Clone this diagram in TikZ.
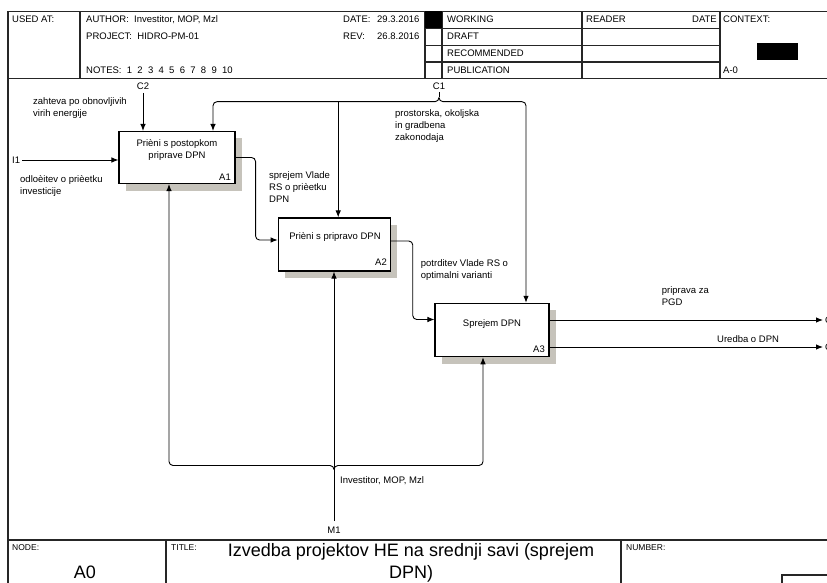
\documentclass[tikz,border=0pt]{standalone}
\usepackage{fontspec}
\setmainfont{Liberation Sans}
\usetikzlibrary{arrows.meta,shadows}
\definecolor{shadowgray}{RGB}{198,195,187}
\newcommand\twosp{\hspace{5.3pt}}
\begin{document}
\begin{tikzpicture}[x=1pt,y=-1pt,
  frame/.style={line width=1.1pt,draw=black!85},
  conn/.style={line width=0.9pt},
  arr/.style={conn,-{Latex[length=7pt,width=5.5pt]}},
  elbow/.style={rounded corners=4pt},
  activity/.style={draw,line width=1.1pt,fill=white,inner sep=0pt,
    drop shadow={shadow xshift=7pt,shadow yshift=-7pt,fill=shadowgray,opacity=1}},
  txt/.style={font=\fontsize{9.5}{12}\selectfont,inner sep=0pt},
  lbl/.style={txt,align=left,anchor=north west},
  small/.style={font=\fontsize{8.5}{10}\selectfont,inner sep=0pt,anchor=base west},
]
\clip (0,0) rectangle (827,583);
\fill[white] (0,0) rectangle (827,583);

% ---------- form frame ----------
\draw[frame] (8,600) -- (8,11.5) -- (870,11.5);
\draw[frame] (8,78.5) -- (870,78.5);
\draw[frame] (80,11.5) -- (80,78.5);
\draw[frame] (425,11.5) -- (425,78.5);
\draw[frame] (442,11.5) -- (442,78.5);
\draw[frame] (582,11.5) -- (582,78.5);
\draw[frame] (720,11.5) -- (720,78.5);
\foreach \yy in {28.5,45.5,62} \draw[frame] (425,\yy) -- (720,\yy);
\fill[black] (425,11.5) rectangle (442,28.5);
\fill[black] (757,43) rectangle (798,60);
\draw[frame] (8,540) -- (870,540);
\draw[frame] (166,540) -- (166,600);
\draw[frame] (621,540) -- (621,600);
\draw[frame] (782,575) rectangle (900,620);

% ---------- header texts ----------
\node[txt,anchor=base west] (usedat) at (12,22.5) {USED AT:};
\node[txt,anchor=base west] (author) at (86,22.5) {AUTHOR:\twosp Investitor, MOP, Mzl};
\node[txt,anchor=base west] (project) at (86,39.5) {PROJECT:\twosp HIDRO-PM-01};
\node[txt,anchor=base west] (notes) at (86,73.5) {NOTES:\twosp 1\twosp 2\twosp 3\twosp 4\twosp 5\twosp 6\twosp 7\twosp 8\twosp 9\twosp 10};
\node[txt,anchor=base west] (date) at (343,22.5) {DATE:};
\node[txt,anchor=base west] (dateval) at (377,22.5) {29.3.2016};
\node[txt,anchor=base west] (rev) at (343,39.5) {REV:};
\node[txt,anchor=base west] (revval) at (377,39.5) {26.8.2016};
\node[txt,anchor=base west] (working) at (447,22.5) {WORKING};
\node[txt,anchor=base west] (draft) at (447,39.5) {DRAFT};
\node[txt,anchor=base west] (recommended) at (447,56.5) {RECOMMENDED};
\node[txt,anchor=base west] (publication) at (447,73.5) {PUBLICATION};
\node[txt,anchor=base west] (reader) at (586,22.5) {READER};
\node[txt,anchor=base east] (readerdate) at (717,22.5) {DATE};
\node[txt,anchor=base west] (context) at (723,22.5) {CONTEXT:};
\node[txt,anchor=base west] (ctxnode) at (723,73.5) {A-0};

% ---------- footer texts ----------
\node[small] (nodelbl) at (12,550) {NODE:};
\node[small] (titlelbl) at (171,550) {TITLE:};
\node[small] (numberlbl) at (626,550) {NUMBER:};
\node[font=\fontsize{18}{22}\selectfont,inner sep=0pt] (nodeval) at (85,572) {A0};
\node[font=\fontsize{18}{22}\selectfont,inner sep=0pt,align=center] (title) at (411,563)
  {Izvedba projektov HE na srednji savi (sprejem\\DPN)};

% ---------- activities ----------
\node[activity,minimum width=116pt,minimum height=52pt] (A1) at (177,157.5) {};
\node[activity,minimum width=112pt,minimum height=53pt] (A2) at (334.2,244.5) {};
\node[activity,minimum width=114pt,minimum height=53.4pt] (A3) at (492,330) {};

\node[txt,align=center,anchor=north] (A1t) at (177,139) {Prièni s postopkom\\priprave DPN};
\node[txt,anchor=base east] (A1n) at (231,180) {A1};
\node[txt,anchor=base] (A2t) at (335,239) {Prièni s pripravo DPN};
\node[txt,anchor=base east] (A2n) at (387,265) {A2};
\node[txt,anchor=base] (A3t) at (492,326) {Sprejem DPN};
\node[txt,anchor=base east] (A3n) at (545,352.5) {A3};

% ---------- boundary labels ----------
\node[txt] (C2) at (143,86) {C2};
\node[txt] (C1) at (439,86) {C1};
\node[txt,anchor=west] (I1) at (12,160) {I1};
\node[txt] (M1) at (334,530) {M1};
\node[txt,anchor=west] (O1) at (825,320) {O1};
\node[txt,anchor=west] (O2) at (825,347) {O2};

\coordinate (c2) at (143,93);
\coordinate (c1) at (439,92);
\coordinate (c1f) at (439,97.5);
\coordinate (c1L) at (435,101.7);
\coordinate (c1R) at (443,101.7);
\coordinate (c1A2) at (338.2,101.7);
\coordinate (i1) at (22,160);
\coordinate (m1) at (334,521);
\coordinate (m1f) at (334,469.5);
\coordinate (m1L) at (330,465.5);
\coordinate (m1R) at (338,465.5);
\coordinate (o1) at (823,320);
\coordinate (o2) at (823,347);

% ---------- controls ----------
\draw[arr] (c2) -- (c2 |- A1.north);
\draw[conn] (c1) -- (c1f);
\draw[conn] (c1f) to[out=-90,in=0] (c1L);
\draw[conn] (c1f) to[out=-90,in=180] (c1R);
\draw[arr,elbow] (c1L) -| ([xshift=36pt]A1.north);
\draw[arr,elbow] (c1R) -| ([xshift=34pt]A3.north);
\draw[arr] (c1A2) -- (c1A2 |- A2.north);

% ---------- inputs and outputs ----------
\draw[arr] (i1) -- (i1 -| A1.west);
\draw[arr,elbow] (A1.east) -- ++(20,0) |- ([yshift=4.5pt]A2.west);
\draw[arr,elbow] ([yshift=3.5pt]A2.east) -- ++(22,0) |- ([yshift=10.5pt]A3.west);
\draw[arr] (o1 -| A3.east) -- (o1);
\draw[arr] (o2 -| A3.east) -- (o2);

% ---------- mechanisms ----------
\draw[arr] (m1) -- (m1 |- A2.south);
\draw[conn] (m1f) to[out=90,in=0] (m1L);
\draw[conn] (m1f) to[out=90,in=180] (m1R);
\draw[arr,elbow] (m1L) -| ([xshift=-8pt]A1.south);
\draw[arr,elbow] (m1R) -| ([xshift=-9pt]A3.south);

% ---------- arrow labels ----------
\node[lbl] (l-zahteva) at (33,97) {zahteva po obnovljivih\\virih energije};
\node[lbl] (l-odlocitev) at (20,175) {odloèitev o prièetku\\investicije};
\node[lbl] (l-sprejem) at (269,171.5) {sprejem Vlade\\RS o prièetku\\DPN};
\node[lbl] (l-prostorska) at (395,109) {prostorska, okoljska\\in gradbena\\zakonodaja};
\node[lbl] (l-potrditev) at (420.7,259) {potrditev Vlade RS o\\optimalni varianti};
\node[lbl] (l-priprava) at (661.7,286.5) {priprava za\\PGD};
\node[txt,anchor=west] (l-uredba) at (717,339) {Uredba o DPN};
\node[txt,anchor=west] (l-investitor) at (340,481) {Investitor, MOP, Mzl};
\end{tikzpicture}
\end{document}
